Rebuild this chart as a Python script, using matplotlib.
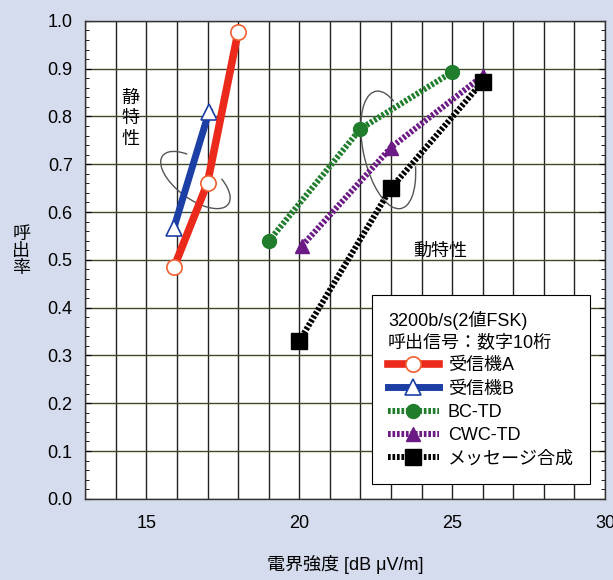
import matplotlib
matplotlib.use('Agg')
import matplotlib.pyplot as plt
from matplotlib.patches import Arc
from matplotlib.ticker import MultipleLocator

plt.rcParams['font.family'] = ['Liberation Sans', 'Noto Sans CJK JP']

# データ
rxA_x = [15.9, 17.0, 18.0]
rxA_y = [0.484, 0.661, 0.977]
rxB_x = [15.9, 17.05]
rxB_y = [0.567, 0.81]
bc_x = [19.0, 22.0, 25.0]
bc_y = [0.539, 0.774, 0.893]
cwc_x = [20.1, 23.0, 26.0]
cwc_y = [0.53, 0.735, 0.885]
msg_x = [20.0, 23.0, 26.0]
msg_y = [0.33, 0.65, 0.873]

labels = ['受信機A', '受信機B', 'BC-TD', 'CWC-TD', 'メッセージ合成']
legend_title = '3200b/s(2値FSK)\n呼出信号：数字10桁'

bg = '#d5dcee'
fig = plt.figure(figsize=(6.13, 5.8), dpi=100, facecolor=bg)
ax = fig.add_axes([0.139, 0.140, 0.848, 0.824])
ax.set_facecolor('white')

dots = (0, (0.45, 0.3))
ax.plot(rxB_x, rxB_y, color='#1c3fa6', lw=5, marker='^', ms=11,
        mfc='white', mec='#1c3fa6', mew=1.2, label=labels[1], zorder=3)
ax.plot(rxA_x, rxA_y, color='#ec2a1c', lw=5.5, marker='o', ms=11,
        mfc='white', mec='#f06030', mew=1.2, label=labels[0], zorder=4)
ax.plot(bc_x, bc_y, color='#1f7d2c', lw=4.3, ls=dots, marker='o', ms=10,
        mfc='#1f7d2c', mec='#1f7d2c', label=labels[2], zorder=3)
ax.plot(cwc_x, cwc_y, color='#6c1a86', lw=4.3, ls=dots, marker='^', ms=10,
        mfc='#6c1a86', mec='#6c1a86', label=labels[3], zorder=3)
ax.plot(msg_x, msg_y, color='black', lw=4.3, ls=dots, marker='s', ms=11,
        mfc='black', mec='black', label=labels[4], zorder=3)

# 凡例の順番
h, l = ax.get_legend_handles_labels()
order = [l.index(s) for s in labels]
leg = ax.legend([h[i] for i in order], [l[i] for i in order],
                title=legend_title, alignment='left', loc='lower right',
                bbox_to_anchor=(0.971, 0.031), borderaxespad=0,
                fontsize=13, title_fontsize=13,
                numpoints=1, handlelength=2.8, labelspacing=0.35,
                handletextpad=0.5, borderpad=0.9, fancybox=False,
                framealpha=1, edgecolor='black')
leg.get_frame().set_linewidth(0.8)
leg.get_title().set_linespacing(1.3)
leg.set_zorder(5)

# 楕円の囲み
ax.add_patch(Arc((0.212, 0.667), 0.162, 0.077, angle=-40, theta1=146, theta2=43,
                 transform=ax.transAxes, color='#555555', lw=1, zorder=2))
ax.add_patch(Arc((0.583, 0.730), 0.25, 0.096, angle=101, theta1=-17, theta2=226,
                 transform=ax.transAxes, color='#555555', lw=1, zorder=2))

ax.text(14.47, 0.795, '静\n特\n性', fontsize=13, ha='center', va='center', linespacing=1.25)
ax.text(24.6, 0.517, '動特性', fontsize=13, ha='center', va='center')

ax.set_xlim(13, 30)
ax.set_ylim(0, 1.0)
ax.set_xticks([15, 20, 25, 30])
ax.xaxis.set_minor_locator(MultipleLocator(1))
ax.yaxis.set_major_locator(MultipleLocator(0.1))
ax.yaxis.set_minor_locator(MultipleLocator(0.02))
ax.yaxis.set_major_formatter(lambda v, p: f'{v:.1f}')

ax.grid(which='minor', axis='x', color='#222222', lw=1)
ax.grid(which='major', axis='x', color='#222222', lw=1)
ax.grid(which='major', axis='y', color='#3f4a2a', lw=1)
ax.set_axisbelow(True)

ax.tick_params(axis='x', which='both', length=0, pad=12, labelsize=13)
ax.tick_params(axis='y', which='both', direction='in', left=True, right=True,
               labelsize=13, pad=9)
ax.tick_params(axis='y', which='major', length=4)
ax.tick_params(axis='y', which='minor', length=3)
for s in ax.spines.values():
    s.set_linewidth(1)
    s.set_color('#333333')

ax.set_xlabel('電界強度 [dB μV/m]', fontsize=13, labelpad=16)
fig.text(0.035, 0.566, '呼\n出\n率', fontsize=13, ha='center', va='center', linespacing=1.0)

fig.savefig('out.png', dpi=100, facecolor=bg)
